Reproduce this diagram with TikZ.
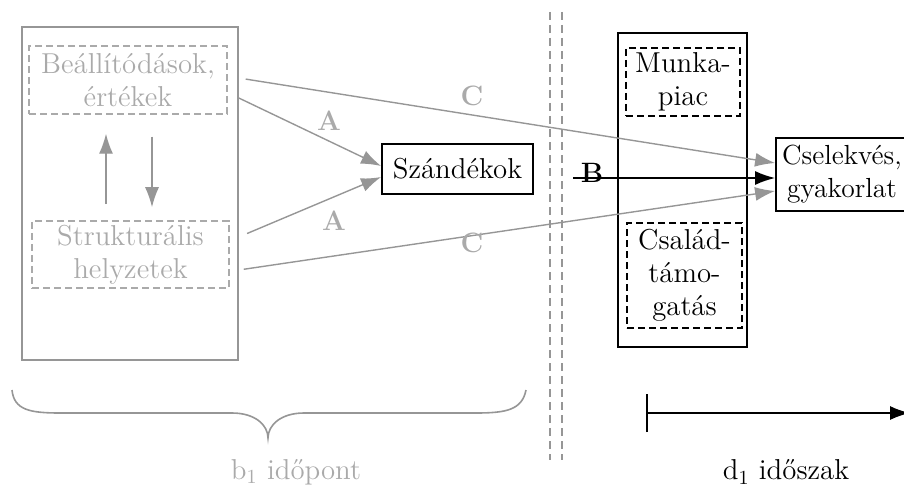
\documentclass[tikz,border=0pt]{standalone}
\usepackage{fontspec}
\usepackage{amsmath}
\usepackage{tikz}
\usetikzlibrary{arrows.meta}
\definecolor{szurke}{RGB}{150,150,150}
\definecolor{vszurke}{RGB}{170,170,170}
\tikzstyle{every node}=[font=\fontsize{14.4}{16.5}\selectfont]
\tikzstyle{doboz}=[draw,line width=0.9pt,align=center,inner sep=2pt]
\tikzstyle{fdoboz}=[draw,line width=0.7pt,dash pattern=on 3.5pt off 2pt,align=center,inner sep=2pt]
\tikzstyle{szdoboz}=[draw=vszurke,text=vszurke,line width=0.7pt,dash pattern=on 3.5pt off 2pt,align=center,inner sep=2pt]
\tikzstyle{keret}=[draw=szurke,line width=0.8pt]
\tikzstyle{gnyil}=[draw=szurke,line width=0.7pt,-{Latex[length=10pt,width=7pt]},color=szurke]
\tikzstyle{fnyil}=[draw,line width=0.8pt,-{Latex[length=10pt,width=7pt]}]
\tikzstyle{gcimke}=[text=vszurke,font=\fontsize{14}{16.5}\selectfont\bfseries]

\begin{document}
\begin{tikzpicture}[x=0.5pt,y=-0.5pt]
\useasboundingbox (0,0) rectangle (904,492);
% b1 idopont
\node[keret, minimum width=108pt, minimum height=166.5pt] (bal) at (130,193.5) {};
\node[szdoboz, minimum width=99pt, minimum height=34pt] (beall) at (128,80) {Beállítódások,\\értékek};
\node[szdoboz, minimum width=98.5pt, minimum height=33.5pt] (struk) at (130.5,254.5) {Strukturális\\helyzetek};
\draw[gnyil, shorten <=8pt, shorten >=9.5pt] (struk.north -| 106,0) -- (beall.south -| 106,0);
\draw[gnyil, shorten <=11pt, shorten >=6.5pt] (beall.south -| 152,0) -- (struk.north -| 152,0);
\node[doboz, minimum width=75.5pt, minimum height=25pt] (szand) at (457.5,169) {Szándékok};
% d1 idoszak
\node[doboz, minimum width=64.5pt, minimum height=157pt] (tenyezok) at (682.5,190) {};
\node[fdoboz, minimum width=57pt, minimum height=34pt] (munka) at (683,82) {Munka-\\piac};
\node[fdoboz, minimum width=57.5pt, minimum height=52.5pt] (csalad) at (684.5,275.5) {Család-\\támo-\\gatás};
\node[doboz, inner xsep=1pt, minimum width=66pt, minimum height=36.5pt,
  font=\fontsize{13.8}{16.5}\selectfont] (csel) at (842,174.5) {Cselekvés,\\gyakorlat};
% hatasok
\draw[gnyil] (bal.east |- 0,98) -- ([yshift=1.5pt]szand.west);
\draw[gnyil, shorten <=4.5pt] (bal.east |- 0,237) -- ([yshift=-4pt]szand.west);
\draw[gnyil, shorten <=3.5pt] (bal.east |- 0,78) -- ([yshift=5.75pt]csel.west);
\draw[gnyil, shorten <=2.5pt] (bal.east |- 0,270) -- ([yshift=-8.25pt]csel.west);
\coordinate (bkezd) at (573,178);
\draw[fnyil] (bkezd) -- (csel.west |- bkezd);
\node[gcimke] (a1) at (329,121) {A};
\node[gcimke] (a2) at (334,221) {A};
\node[gcimke] (c1) at (472,96) {C};
\node[gcimke] (c2) at (472,243) {C};
\node[gcimke, text=black] (b) at (592,173) {B};
% hatarvonal
\draw[szurke, line width=0.6pt, dash pattern=on 4pt off 2.5pt] (550,12) -- (550,460);
\draw[szurke, line width=0.6pt, dash pattern=on 4pt off 2.5pt] (562,12) -- (562,460);
% idotengely
\draw[szurke, line width=0.8pt] (12,390) .. controls (14,410) and (30,413) .. (60,413) -- (232,413)
  .. controls (255,413) and (268,425) .. (268,438) .. controls (268,425) and (281,413) .. (304,413)
  -- (476,413) .. controls (506,413) and (522,410) .. (526,390);
\coordinate (tkezd) at (646,413);
\coordinate (tveg) at (910,413);
\draw[line width=0.9pt, {Bar[width=19pt]}-{Latex[length=10pt,width=7pt]}] (tkezd) -- (tveg);
\node[text=vszurke] (bido) at (296,472) {b$_1$ időpont};
\node (dido) at (786,472) {d$_1$ időszak};
\end{tikzpicture}
\end{document}
